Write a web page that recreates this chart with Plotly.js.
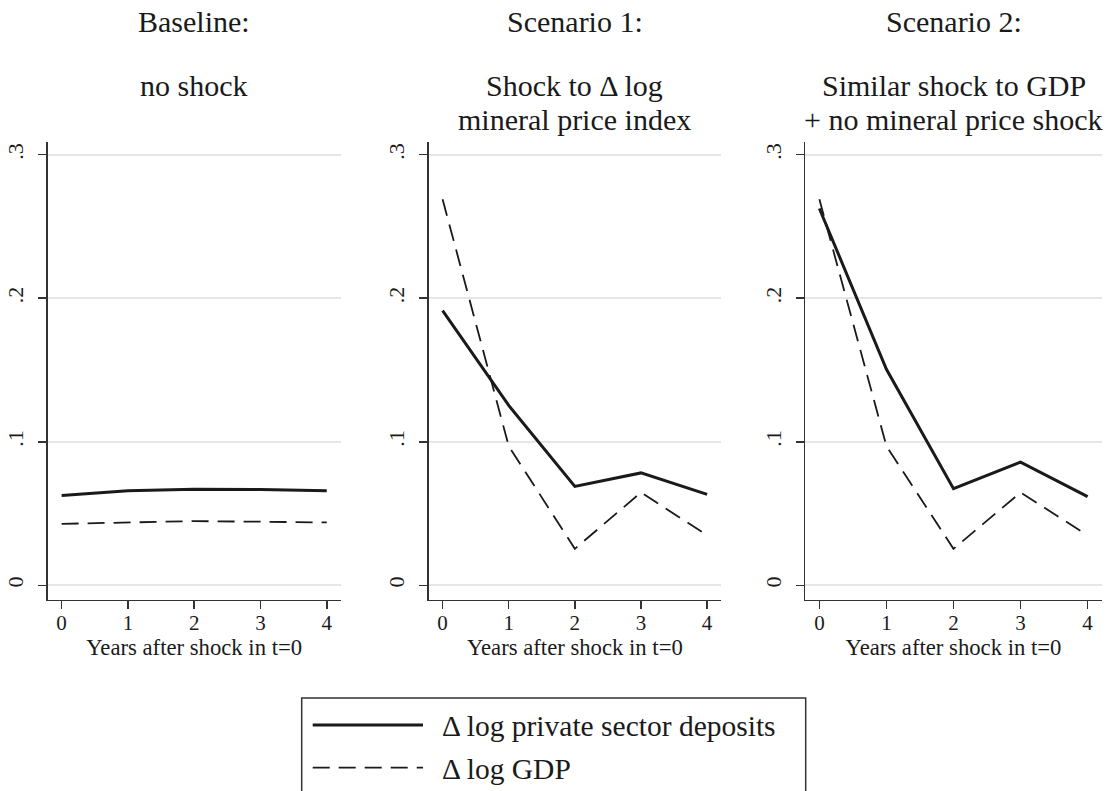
<!DOCTYPE html>
<html>
<head>
<meta charset="utf-8">
<script src="https://cdn.plot.ly/plotly-3.0.1.min.js"></script>
<style>html,body{margin:0;padding:0;background:#fff;}#chart{width:1120px;height:791px;}</style>
</head>
<body>
<div id="chart"></div>
<script>
// ---- data ----
const years = [0, 1, 2, 3, 4];
const baselineDeposits = [0.0625, 0.0658, 0.0670, 0.0668, 0.0658];
const baselineGDP      = [0.0428, 0.0440, 0.0447, 0.0443, 0.0438];
const scen1Deposits    = [0.1913, 0.1253, 0.0689, 0.0783, 0.0633];
const scen1GDP         = [0.2689, 0.0970, 0.0254, 0.0647, 0.0348];
const scen2Deposits    = [0.2625, 0.1505, 0.0673, 0.0858, 0.0618];
const scen2GDP         = [0.2689, 0.0970, 0.0254, 0.0647, 0.0348];
const yTickVals = [0, 0.1, 0.2, 0.3];
const yTickText = ["0", ".1", ".2", ".3"];
const xTickVals = [0, 1, 2, 3, 4];
const xTickText = ["0", "1", "2", "3", "4"];
const panelTitles = [
  ["Baseline:", "no shock"],
  ["Scenario 1:", "Shock to \u0394 log", "mineral price index"],
  ["Scenario 2:", "Similar shock to GDP", "+ no mineral price shock"]
];
const xTitle = "Years after shock in t=0";
const legendLabels = ["\u0394 log private sector deposits", "\u0394 log GDP"];

// ---- layout helpers ----
const W = 1120, H = 791;
const px = v => v / W;
const py = v => 1 - v / H;
const FONT = "Liberation Serif, Times New Roman, serif";
const INK = "#1a1a1a";

const panels = [
  {l: 47.7, r: 340.7, dep: baselineDeposits, gdp: baselineGDP},
  {l: 428.7, r: 721.0, dep: scen1Deposits, gdp: scen1GDP},
  {l: 805.3, r: 1101.7, dep: scen2Deposits, gdp: scen2GDP}
];
const plotTop = 141.5, plotBottom = 599.5;

const traces = [];
const layout = {
  width: W, height: H,
  margin: {l: 0, r: 0, t: 0, b: 0},
  paper_bgcolor: "#fff", plot_bgcolor: "#fff",
  showlegend: false,
  font: {family: FONT, color: INK},
  annotations: [], shapes: []
};

panels.forEach((p, i) => {
  const n = i === 0 ? "" : String(i + 1);
  const xa = "x" + n, ya = "y" + n;
  traces.push({
    x: years, y: p.dep, xaxis: xa, yaxis: ya, type: "scatter", mode: "lines",
    line: {color: INK, width: 3}, hoverinfo: "skip"
  });
  traces.push({
    x: years, y: p.gdp, xaxis: xa, yaxis: ya, type: "scatter", mode: "lines",
    line: {color: INK, width: 1.8, dash: "17px,9px"}, hoverinfo: "skip"
  });
  layout["xaxis" + n] = {
    domain: [px(p.l), px(p.r)], anchor: ya, range: [-0.21, 4.21],
    showgrid: false, zeroline: false, showline: true, linecolor: "#333", linewidth: 1.5,
    ticks: "outside", ticklen: 8, tickwidth: 1.5, tickcolor: "#333",
    tickvals: xTickVals, ticktext: xTickText, ticklabelstandoff: -4,
    tickfont: {family: FONT, size: 21, color: INK},
    title: {text: xTitle, font: {family: FONT, size: 22.7, color: INK}, standoff: 0},
    fixedrange: true
  };
  layout["yaxis" + n] = {
    domain: [py(plotBottom), py(plotTop)], anchor: xa, range: [-0.0099, 0.3092],
    showgrid: true, gridcolor: "#e6e6e6", gridwidth: 1.8, zeroline: false,
    showline: true, linecolor: "#333", linewidth: 1.5,
    ticks: "outside", ticklen: 8, tickwidth: 1.5, tickcolor: "#333",
    tickvals: yTickVals, ticktext: yTickText, tickangle: -90, ticklabelstandoff: 6,
    tickfont: {family: FONT, size: 22, color: INK},
    fixedrange: true
  };
  // panel titles (one annotation per line, tight spacing like the original)
  const cx = (p.l + p.r) / 2;
  const lineY = [21, 85, 119];
  panelTitles[i].forEach((t, k) => {
    layout.annotations.push({
      xref: "paper", yref: "paper", x: px(cx), y: py(lineY[k]),
      xanchor: "center", yanchor: "middle", showarrow: false, borderpad: 0,
      text: t, font: {family: FONT, size: 30, color: INK}
    });
  });
});

// legend (drawn manually to match the long line samples)
layout.shapes.push({
  type: "rect", xref: "paper", yref: "paper",
  x0: px(301.7), x1: px(805.7), y0: py(698), y1: py(830),
  line: {color: "#333", width: 1.5}, fillcolor: "rgba(0,0,0,0)"
});
layout.shapes.push({
  type: "line", xref: "paper", yref: "paper",
  x0: px(312.7), x1: px(423), y0: py(725), y1: py(725),
  line: {color: INK, width: 3}
});
layout.shapes.push({
  type: "line", xref: "paper", yref: "paper",
  x0: px(312.7), x1: px(423), y0: py(767.7), y1: py(767.7),
  line: {color: INK, width: 1.8, dash: "17px,9px"}
});
[725, 767.7].forEach((yy, k) => {
  layout.annotations.push({
    xref: "paper", yref: "paper", x: px(440), y: py(yy + 1),
    xanchor: "left", yanchor: "middle", showarrow: false,
    text: legendLabels[k], font: {family: FONT, size: 29.5, color: INK}
  });
});

Plotly.newPlot("chart", traces, layout, {staticPlot: true, displayModeBar: false});
</script>
</body>
</html>
